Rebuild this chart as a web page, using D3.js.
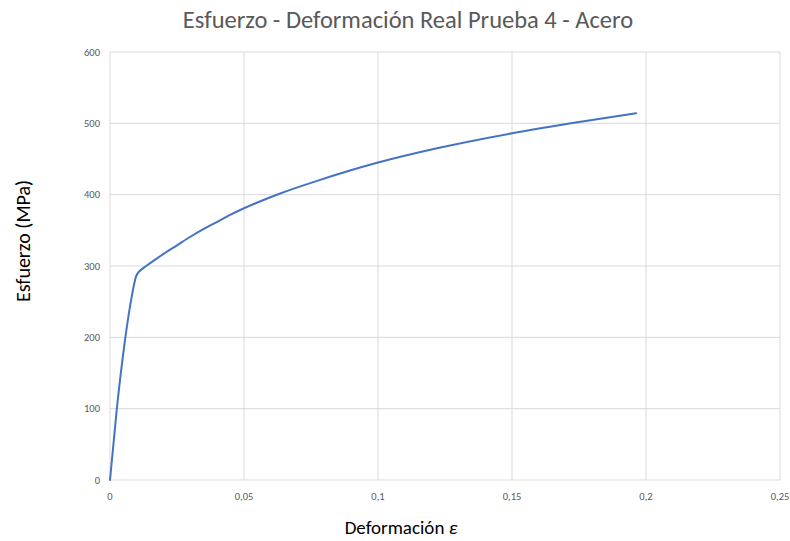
<!DOCTYPE html>
<html><head><meta charset="utf-8">
<script src="https://cdn.jsdelivr.net/npm/d3@7"></script>
<style>body{margin:0;background:#fff}svg{display:block}</style>
</head><body>
<svg id="c" width="790" height="541"></svg>
<script>
const strain = [0,0.0025,0.0056,0.0081,0.0097,0.0108,0.0114,0.0124,0.015,0.02,0.025,0.03,0.035,0.04,0.045,0.05,0.055,0.063,0.077,0.1,0.122,0.15,0.172,0.1963];
const stress = [0,98,196,257,285,292,294,297,304,317,329,341,352,362,372,381,389,401,419,445,465,486,500,514];
const xTicks = [0,0.05,0.1,0.15,0.2,0.25];
const yTicks = [0,100,200,300,400,500,600];

const svg = d3.select("#c");
const font = "Carlito, 'Open Sans', 'Liberation Sans', sans-serif";
const x = d3.scaleLinear().domain([0,0.25]).range([110,780]);
const y = d3.scaleLinear().domain([0,600]).range([480,52]);
const fmt = d => d3.format("")(d).replace(".", ",");

svg.append("g").selectAll("line").data(yTicks).join("line")
  .attr("x1",x(0)).attr("x2",x(0.25)).attr("y1",d=>y(d)).attr("y2",d=>y(d))
  .attr("stroke","#d9d9d9").attr("stroke-width",1);
svg.append("g").selectAll("line").data(xTicks).join("line")
  .attr("y1",y(0)).attr("y2",y(600)).attr("x1",d=>x(d)).attr("x2",d=>x(d))
  .attr("stroke","#d9d9d9").attr("stroke-width",1);

svg.append("g").selectAll("text").data(yTicks).join("text")
  .attr("x",100).attr("y",d=>y(d)+3.5).attr("text-anchor","end")
  .attr("font-family",font).attr("font-size",10.5).attr("fill","#595959").text(d=>d);
svg.append("g").selectAll("text").data(xTicks).join("text")
  .attr("x",d=>x(d)).attr("y",500).attr("text-anchor","middle")
  .attr("font-family",font).attr("font-size",10.5).attr("fill","#595959").text(fmt);

const pts = strain.map((s,i)=>[s,stress[i]]);
svg.append("path").datum(pts)
  .attr("d", d3.line().x(d=>x(d[0])).y(d=>y(d[1])).curve(d3.curveMonotoneX))
  .attr("fill","none").attr("stroke","#4472C4").attr("stroke-width",2).attr("stroke-linecap","round");

svg.append("text").attr("x",408).attr("y",28).attr("text-anchor","middle")
  .attr("font-family",font).attr("font-size",24.5).attr("fill","#595959")
  .text("Esfuerzo - Deformación Real Prueba 4 - Acero");
svg.append("text").attr("transform","translate(30,241) rotate(-90)").attr("text-anchor","middle")
  .attr("font-family",font).attr("font-size",20).attr("fill","#000")
  .text("Esfuerzo (MPa)");
const xl = svg.append("text").attr("x",401).attr("y",534).attr("text-anchor","middle")
  .attr("font-family",font).attr("font-size",19).attr("fill","#000");
xl.append("tspan").text("Deformación ");
xl.append("tspan").attr("font-style","italic").text("ε");
</script>
</body></html>
